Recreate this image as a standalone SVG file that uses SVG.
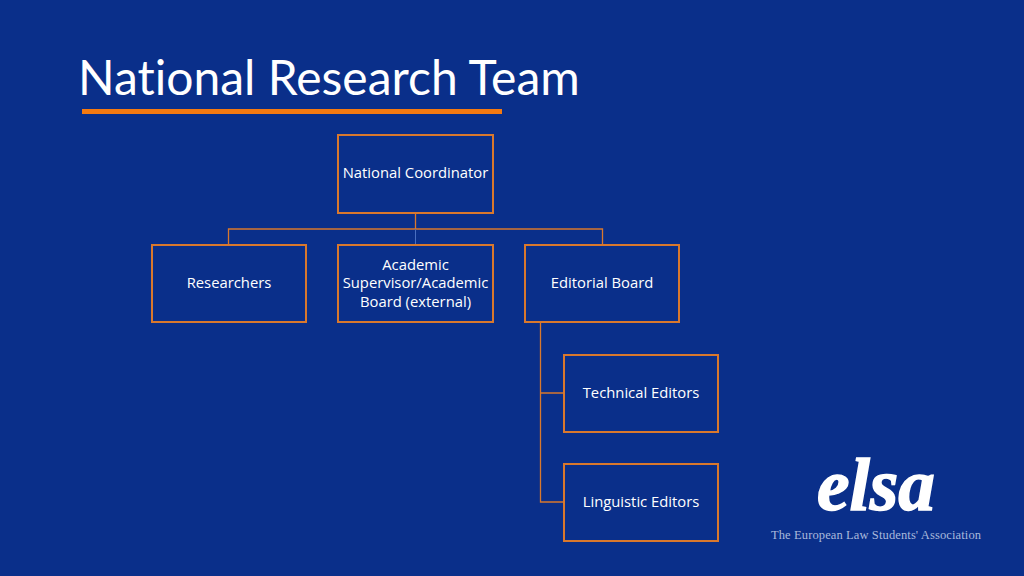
<svg xmlns="http://www.w3.org/2000/svg" width="1024" height="576" viewBox="0 0 1024 576">
<style>
.n{fill:none;stroke:#d9782d;stroke-width:2}
.t{font-family:"Open Sans",sans-serif;font-size:14.800px;fill:#fff;text-anchor:middle}
.c{fill:none;stroke:#d9782d;stroke-width:1.300}
</style>
<rect width="1024" height="576" fill="#0a2f8a"/>
<text x="78" y="95" font-family="Lato,sans-serif" font-size="48" fill="#fff" style="font-variant-ligatures:none">National Research Team</text>
<rect x="82" y="109" width="420" height="5" fill="#f57a10"/>
<g id="connectors">
<path class="c" d="M415.500 213V229M228.500 244V229H602.500V244M540.500 322V502H564M540.500 393H564"/>
<path d="M415.500 229V244" fill="none" stroke="#4a6fc0" stroke-width="1"/>
</g>
<g id="coordinator"><rect class="n" x="338" y="135" width="155" height="78"/><text class="t" x="415.500" y="178">National Coordinator</text></g>
<g id="researchers"><rect class="n" x="152" y="245" width="154" height="77"/><text class="t" x="229" y="288">Researchers</text></g>
<g id="academic"><rect class="n" x="338" y="245" width="155" height="77"/><text class="t" x="415.500" y="269.500">Academic</text><text class="t" x="415.500" y="288">Supervisor/Academic</text><text class="t" x="415.500" y="306.500">Board (external)</text></g>
<g id="editorial"><rect class="n" x="525" y="245" width="154" height="77"/><text class="t" x="602" y="288">Editorial Board</text></g>
<g id="technical"><rect class="n" x="564" y="355" width="154" height="77"/><text class="t" x="641" y="398">Technical Editors</text></g>
<g id="linguistic"><rect class="n" x="564" y="464" width="154" height="77"/><text class="t" x="641" y="507">Linguistic Editors</text></g>
<g id="logo">
<text x="817" y="510" font-family="'Liberation Serif',serif" font-style="italic" font-weight="bold" font-size="74" fill="#fff" stroke="#fff" stroke-width="1.500" textLength="118" lengthAdjust="spacingAndGlyphs">elsa</text>
<text x="771" y="539" font-family="'Liberation Serif',serif" font-size="12.500" fill="#a9b9dc" textLength="210" lengthAdjust="spacing">The European Law Students' Association</text>
</g>
</svg>
